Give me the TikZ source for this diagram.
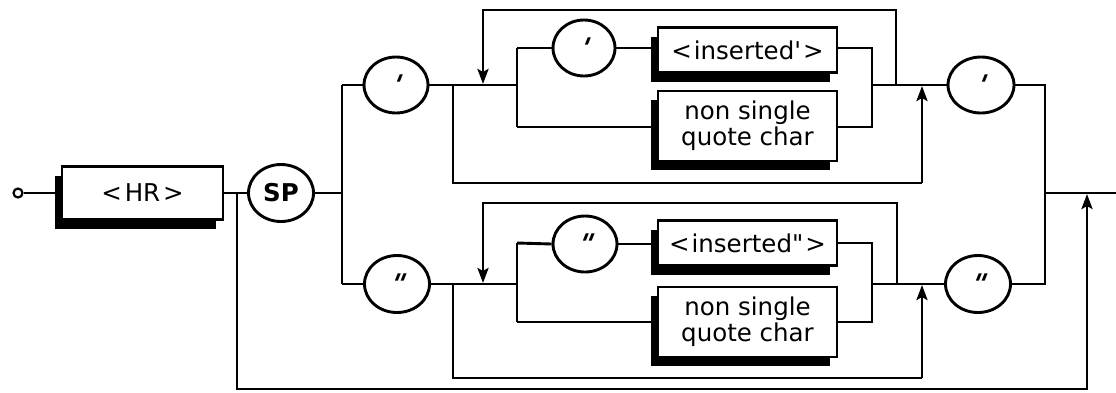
\documentclass[tikz,border=0pt]{standalone}
\usepackage{fontspec}
\setmainfont{DejaVu Sans}
\newfontfamily\tickfont{DejaVu Sans Bold}[FakeSlant=0.4]
\usetikzlibrary{shapes.geometric,shadows,arrows.meta}
\newcommand\qsgl{{\fontsize{27}{27}\tickfont\kern-5pt\textquotesingle}}
\newcommand\qdbl{\raisebox{-0.3em}{\fontsize{27}{27}\tickfont\kern-5pt\textquotedbl}}
\begin{document}
\begin{tikzpicture}[x=1pt,y=-1pt,
  line width=2.9pt,
  font=\fontsize{24.5}{26}\selectfont,
  termbox/.style={draw, rectangle, inner sep=0pt, align=center, fill=white,
    general shadow={fill=black, shadow xshift=-7pt, shadow yshift=-9pt}},
  term/.style={draw, ellipse, inner sep=0pt, minimum width=64pt, minimum height=56pt},
  arr/.style={-{Stealth[length=15pt,width=11pt,inset=3pt]}, shorten >=1pt}
]
\useasboundingbox (0,0) rectangle (1116,392);

% ---------- main nodes ----------
\node[draw, circle, minimum size=9pt, inner sep=0pt, line width=2.2pt] (start) at (18,193) {};
\node[termbox, minimum width=161pt, minimum height=53pt] (hr) at (142.5,193) {<\kern3pt HR\kern3pt>};
\node[term, minimum width=65pt, minimum height=57pt, font=\fontsize{24.5}{26}\selectfont\bfseries] (sp) at (281,193) {SP};

% ---------- upper branch (single quote) ----------
\node[term] (q1) at (396,85) {\qsgl};
\node[term, minimum width=62pt] (q1i) at (584,48) {\qsgl};
\node[termbox, minimum width=179pt, minimum height=45pt] (ins1) at (747.5,50) {<\kern2pt inserted\textquotesingle\kern2pt>};
\node[termbox, minimum width=179pt, minimum height=70pt] (nsq1) at (747.5,126) {non single\\quote char};
\node[term, minimum width=66pt] (q1o) at (981,85) {\qsgl};

% ---------- lower branch (double quote) ----------
\node[term, minimum width=65pt, minimum height=57pt] (q2) at (397,284) {\qdbl};
\node[term] (q2i) at (585,244) {\qdbl};
\node[termbox, minimum width=179pt, minimum height=45pt] (ins2) at (747.5,243) {<\kern2pt inserted\textquotedbl\kern2pt>};
\node[termbox, minimum width=179pt, minimum height=70pt] (nsq2) at (747.5,322) {non single\\quote char};
\node[term, minimum width=65pt, minimum height=57pt] (q2o) at (978,284) {\qdbl};

% ---------- coordinates ----------
\coordinate (j0) at (237,193);
\coordinate (b0) at (237,389);
\coordinate (b1) at (1087,389);
\coordinate (e1) at (1087,193);
\coordinate (s1t) at (342,85);
\coordinate (s1) at (342,193);
\coordinate (s1b) at (342,284);
\coordinate (jot) at (1045,85);
\coordinate (jo) at (1045,193);
\coordinate (job) at (1045,284);
\coordinate (end) at (1116,193);

% upper sub-diagram
\coordinate (L1) at (453,85);  \coordinate (L1b) at (453,183);
\coordinate (U1b) at (922,183); \coordinate (U1) at (922,85);
\coordinate (T1r) at (896,85); \coordinate (T1rt) at (896,10);
\coordinate (T1l) at (483,10); \coordinate (D1) at (483,85);
\coordinate (I1) at (517,85); \coordinate (I1t) at (517,48); \coordinate (I1b) at (517,127);
\coordinate (R1t) at (872,48); \coordinate (R1b) at (872,127); \coordinate (R1) at (872,85);

% lower sub-diagram
\coordinate (L2) at (453,284);  \coordinate (L2b) at (453,378);
\coordinate (U2b) at (922,378); \coordinate (U2) at (922,284);
\coordinate (T2r) at (897,284); \coordinate (T2rt) at (897,203);
\coordinate (T2l) at (483,203); \coordinate (D2) at (483,284);
\coordinate (I2) at (517,284); \coordinate (I2t) at (517,243); \coordinate (I2b) at (517,322);
\coordinate (R2t) at (872,243); \coordinate (R2b) at (872,322); \coordinate (R2) at (872,284);

% ---------- connectors ----------
\draw (start.east) -- (hr.west);
\draw (hr.east) -- (sp.west);
\draw[arr] (j0) -- (b0) -- (b1) -- (e1);
\draw (sp.east) -- (s1);
\draw (s1t) -- (s1b);
\draw (s1t) -- (q1.west);
\draw (s1b) -- (q2.west);

% upper
\draw (q1.east) -- (I1);
\draw (I1t) -- (I1b);
\draw (I1t) -- (q1i.west);
\draw (q1i.east) -- (q1i.east -| ins1.west);
\draw (I1b) -- (I1b -| nsq1.west);
\draw (R1t -| ins1.east) -- (R1t) -- (R1b) -- (R1b -| nsq1.east);
\draw (R1) -- (q1o.west);
\draw (L1) -- (L1b) -- (U1b);
\draw[arr] (U1b) -- (U1);
\draw[arr] (T1r) -- (T1rt) -- (T1l) -- (D1);

% lower
\draw (q2.east) -- (I2);
\draw (I2t) -- (I2b);
\draw (I2t) -- (q2i.west);
\draw (q2i.east) -- (q2i.east -| ins2.west);
\draw (I2b) -- (I2b -| nsq2.west);
\draw (R2t -| ins2.east) -- (R2t) -- (R2b) -- (R2b -| nsq2.east);
\draw (R2) -- (q2o.west);
\draw (L2) -- (L2b) -- (U2b);
\draw[arr] (U2b) -- (U2);
\draw[arr] (T2r) -- (T2rt) -- (T2l) -- (D2);

% exit
\draw (q1o.east) -- (jot) -- (job) -- (q2o.east);
\draw (jo) -- (end);
\end{tikzpicture}
\end{document}
